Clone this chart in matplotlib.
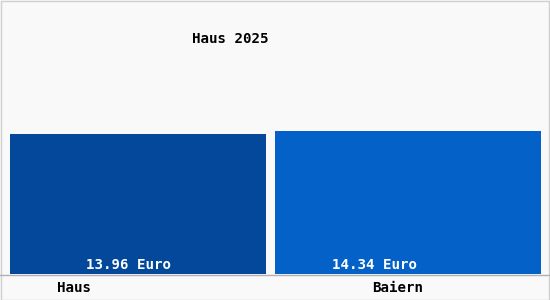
import matplotlib.pyplot as plt
from matplotlib.patches import Rectangle

# Daten
orte = ["Haus", "Baiern"]
preise = [13.96, 14.34]
wert_labels = ["13.96 Euro", "14.34 Euro"]
titel = "Haus 2025"

farben = ["#03489a", "#0461c8"]

W, H = 550, 300
fig = plt.figure(figsize=(W / 100, H / 100), dpi=100)
fig.patch.set_facecolor("#f9f9f9")

# Achse: Unterkante bei y=274 px, oben bis Bildrand
ax = fig.add_axes([0, (H - 274) / H, 1, 274 / H])
ax.set_facecolor("#f9f9f9")
px_x = 270.0
ax.set_xlim(-138 / px_x, 1 + 142 / px_x)
ax.set_ylim(0, 274 / 10.0)
ax.bar(range(len(orte)), preise, width=[256 / px_x, 266 / px_x], color=farben, zorder=2)
ax.axis("off")

font = dict(family="DejaVu Sans Mono", fontsize=10.2, weight="bold")

# Wertbeschriftungen in den Balken
for lab, xp in zip(wert_labels, [128, 375]):
    fig.text(xp / W, 1 - 269 / H, lab, color="white", ha="center", va="baseline", **font)

# Kategorien unten
for lab, xp in zip(orte, [74, 398]):
    fig.text(xp / W, 1 - 292 / H, lab, color="black", ha="center", va="baseline", **font)

# Titel
fig.text(230 / W, 1 - 43 / H, titel, color="black", ha="center", va="baseline", **font)

# Rahmen und Grundlinie
fig.add_artist(plt.Line2D([0, 1], [1 - 274.5 / H] * 2, color="#b0b0b0", lw=1))
fig.add_artist(Rectangle((0.5 / W, 0.5 / H), 1 - 1.5 / W, 1 - 1.5 / H,
                         transform=fig.transFigure, fill=False,
                         edgecolor="#d0d0d0", lw=1))

fig.savefig("out.png", dpi=100, facecolor=fig.get_facecolor())
